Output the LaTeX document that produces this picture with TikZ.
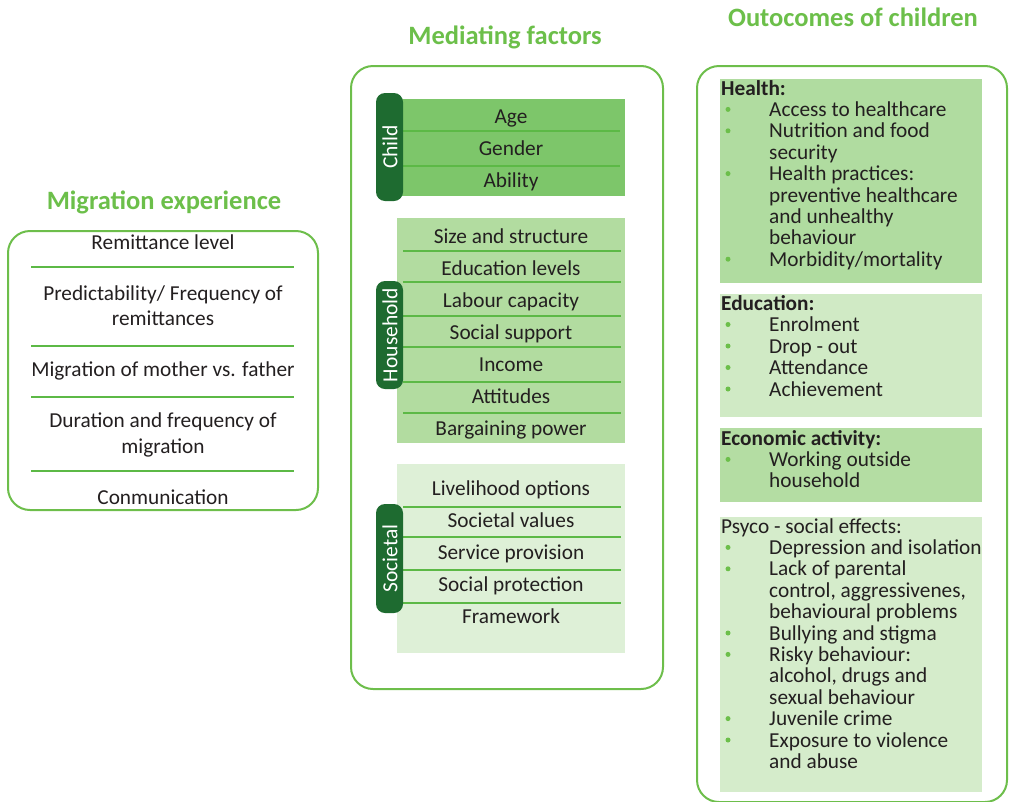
\documentclass[tikz,border=0pt]{standalone}
\usepackage{fontspec}
\setmainfont{Carlito}
\definecolor{tc}{HTML}{231F20}
\definecolor{ttlc}{HTML}{6CBF4A}
\definecolor{framec}{HTML}{6DBE4B}
\definecolor{sepc}{HTML}{5CB946}
\definecolor{pillc}{HTML}{1E6B30}
\definecolor{bulc}{HTML}{6CBF4A}
\definecolor{childc}{HTML}{7DC66A}
\definecolor{housec}{HTML}{B2DCA0}
\definecolor{socc}{HTML}{DEF0D7}
\definecolor{healthc}{HTML}{B0DCA0}
\definecolor{educc}{HTML}{D0EAC5}
\definecolor{econc}{HTML}{B4DDA3}
\definecolor{psyc}{HTML}{D5ECCB}
\begin{document}
\begin{tikzpicture}[x=1pt,y=-1pt,
  txt/.style={inner sep=0pt, text=tc, font=\fontsize{21.3}{21.4}\selectfont},
  ttl/.style={inner sep=0pt, text=ttlc, font=\fontsize{26.5}{30}\selectfont\bfseries},
  frame/.style={draw=framec, line width=2pt, rounded corners=22pt},
  sep/.style={draw=sepc, line width=2.4pt},
  pill/.style={fill=pillc, rounded corners=9pt},
  pilltxt/.style={text=white, rotate=90, inner sep=0pt, font=\fontsize{21.5}{22}\selectfont}
]
\useasboundingbox (0,0) rectangle (1009,801);

% ---------- Titles
\node[ttl, anchor=base] (tmig) at (164,209.5) {Migration experience};
\node[ttl, anchor=base] (tmed) at (505,44.5) {Mediating factors};
\node[ttl, anchor=base] (tout) at (853,26.5) {Outocomes of children};

% ---------- Left box
\draw[frame] (8,231) rectangle (318,510);
\foreach \y in {267,346,397,471} \draw[sep] (31,\y) -- (294,\y);
\foreach \y/\t [count=\i] in {242/Remittance level, 293/{Predictability/ Frequency of}, 318/remittances,
    369/Migration of mother vs. father, 420/Duration and frequency of, 446/migration, 497/Conmunication}
  \node[txt, anchor=base] (m\i) at (163,\y+7) {\t};

% ---------- Middle box
\draw[frame] (351,66) rectangle (663,689);
% child
\fill[childc] (390,99) rectangle (625,196);
\foreach \y in {131,166} \draw[sep] (403,\y) -- (620,\y);
\foreach \y/\t [count=\i] in {116/Age, 148/Gender, 180/Ability}
  \node[txt, anchor=base] (c\i) at (511,\y+7) {\t};
\fill[pill] (376,93) rectangle (403,201);
\node[pilltxt] (pchild) at (390,147) {Child};
% household
\fill[housec] (397,218) rectangle (625,443);
\foreach \y in {251,282,316,347,382,413} \draw[sep] (403,\y) -- (621,\y);
\foreach \y/\t [count=\i] in {236/Size and structure, 268/Education levels, 300/Labour capacity,
    332/Social support, 364/Income, 396/Attitudes, 428/Bargaining power}
  \node[txt, anchor=base] (h\i) at (511,\y+7) {\t};
\fill[pill] (376,281) rectangle (403,389);
\node[pilltxt] (phouse) at (390,335) {Household};
% societal
\fill[socc] (397,464) rectangle (625,653);
\foreach \y in {507,537,570,603} \draw[sep] (403,\y) -- (621,\y);
\foreach \y/\t [count=\i] in {488/Livelihood options, 520/Societal values, 552/Service provision,
    584/Social protection, 616/Framework}
  \node[txt, anchor=base] (s\i) at (511,\y+7) {\t};
\fill[pill] (376,504) rectangle (403,613);
\node[pilltxt] (psoc) at (390,558.5) {Societal};

% ---------- Right box
\draw[frame] (697,66) rectangle (1007,802);
\fill[healthc] (720,79) rectangle (982,283);
\fill[educc] (720,294) rectangle (982,417);
\fill[econc] (720,428) rectangle (982,502);
\fill[psyc] (720,517) rectangle (982,792);

\node[txt, anchor=base west, font=\fontsize{21.3}{21.4}\selectfont\bfseries] (hh) at (721,95) {Health:};
\node[txt, anchor=base west, font=\fontsize{21.3}{21.4}\selectfont\bfseries] (eh) at (721,310) {Education:};
\node[txt, anchor=base west, font=\fontsize{21.3}{21.4}\selectfont\bfseries] (ah) at (721,445) {Economic activity:};
\node[txt, anchor=base west] (ph) at (721,533) {Psyco - social effects:};

\foreach \y/\b/\t [count=\i] in {
    116.4/1/Access to healthcare, 137.8/1/Nutrition and food, 159.2/0/security,
    180.6/1/Health practices:, 202/0/preventive healthcare, 223.4/0/and unhealthy,
    244.8/0/behaviour, 266.2/1/{Morbidity/mortality},
    331.5/1/Enrolment, 353/1/Drop - out, 374.5/1/Attendance, 396/1/Achievement,
    466.4/1/Working outside, 487.8/0/household,
    554.4/1/Depression and isolation, 575.8/1/Lack of parental, 597.2/0/{control, aggressivenes,},
    618.6/0/behavioural problems, 640/1/Bullying and stigma, 661.4/1/Risky behaviour:,
    682.8/0/{alcohol, drugs and}, 704.2/0/sexual behaviour, 725.6/1/Juvenile crime,
    747/1/Exposure to violence, 768.4/0/and abuse}
{
  \node[txt, anchor=base west] (o\i) at (769,\y) {\t};
  \ifnum\b=1 \fill[bulc] (728,\y-7) circle (2.5pt); \fi
}
\end{tikzpicture}
\end{document}
